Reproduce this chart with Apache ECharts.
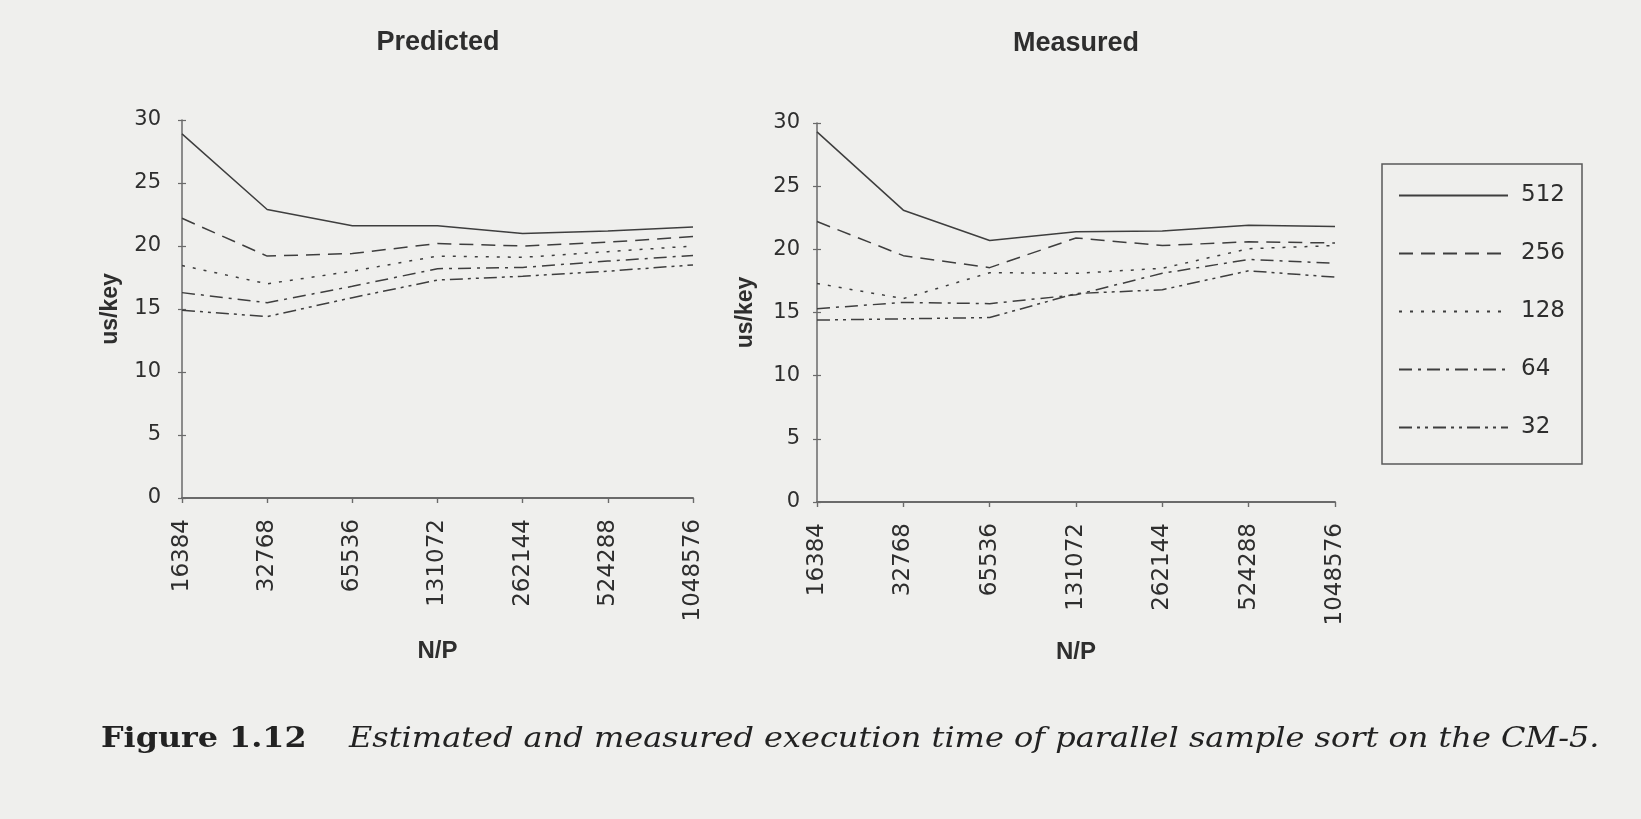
<!DOCTYPE html>
<html>
<head>
<meta charset="utf-8">
<script src="https://cdn.jsdelivr.net/npm/echarts@6/dist/echarts.min.js"></script>
<style>
html,body{margin:0;padding:0;background:#efefed;}
#chart{width:1641px;height:819px;}
</style>
</head>
<body>
<div id="chart"></div>
<script>
const categories = ['16384','32768','65536','131072','262144','524288','1048576'];
const seriesNames = ['512','256','128','64','32'];
const pred512 = [28.9, 22.9, 21.6, 21.6, 21.0, 21.2, 21.5];
const pred256 = [22.2, 19.2, 19.4, 20.2, 20.0, 20.3, 20.75];
const pred128 = [18.45, 17.0, 18.0, 19.2, 19.1, 19.55, 20.0];
const pred64  = [16.3, 15.5, 16.8, 18.2, 18.3, 18.8, 19.25];
const pred32  = [14.9, 14.4, 15.9, 17.3, 17.6, 18.0, 18.5];
const meas512 = [29.3, 23.1, 20.7, 21.4, 21.45, 21.9, 21.8];
const meas256 = [22.2, 19.5, 18.55, 20.9, 20.3, 20.6, 20.5];
const meas128 = [17.3, 16.1, 18.15, 18.1, 18.5, 20.05, 20.3];
const meas64  = [15.3, 15.8, 15.7, 16.4, 18.1, 19.2, 18.9];
const meas32  = [14.4, 14.5, 14.6, 16.5, 16.8, 18.3, 17.8];
const yTicks = {min: 0, max: 30, interval: 5};
const titles = ['Predicted', 'Measured'];
const yName = 'us/key';
const xName = 'N/P';
const captionBold = 'Figure 1.12';
const captionItalic = 'Estimated and measured execution time of parallel sample sort on the CM-5.';

const predicted = [pred512, pred256, pred128, pred64, pred32];
const measured = [meas512, meas256, meas128, meas64, meas32];
const dashes = ['solid', [14, 8], [3, 8], [13, 6, 3, 6], [13, 5, 3, 5, 3, 5]];
const lineColor = '#3e3e3e';
const axisColor = '#6a6a6a';
const textColor = '#2e2e2e';

const grids = [
  {left: 182, width: 511, top: 120, height: 378},
  {left: 817, width: 518, top: 123, height: 379}
];
const yMargins = [21, 17];
const xNameGaps = [141, 138];

const xAxes = [], yAxes = [];
grids.forEach((g, i) => {
  xAxes.push({
    type: 'category', gridIndex: i, data: categories, boundaryGap: false,
    name: xName, nameLocation: 'middle', nameGap: xNameGaps[i],
    nameTextStyle: {fontSize: 24, fontWeight: 'bold', fontFamily: 'Liberation Sans', color: textColor},
    axisLine: {lineStyle: {color: axisColor, width: 2}},
    axisTick: {length: 5, lineStyle: {color: axisColor, width: 1.2}},
    axisLabel: {rotate: 90, margin: 21, fontSize: 23, fontFamily: 'DejaVu Sans', color: textColor},
    splitLine: {show: false}
  });
  xAxes.push({
    type: 'category', gridIndex: i, data: categories, boundaryGap: false,
    axisLine: {show: false},
    axisTick: {inside: true, length: 5, lineStyle: {color: axisColor, width: 1.2}},
    axisLabel: {show: false}, splitLine: {show: false}
  });
  yAxes.push({
    type: 'value', gridIndex: i, min: yTicks.min, max: yTicks.max, interval: yTicks.interval,
    name: yName, nameLocation: 'middle', nameGap: 60,
    nameTextStyle: {fontSize: 23, fontWeight: 'bold', fontFamily: 'Liberation Sans', color: textColor},
    axisLine: {show: true, lineStyle: {color: axisColor, width: 1.5}},
    axisTick: {show: true, length: 4, lineStyle: {color: axisColor, width: 1.2}},
    axisLabel: {margin: yMargins[i], fontSize: 21, fontFamily: 'DejaVu Sans', color: textColor},
    splitLine: {show: false}
  });
  yAxes.push({
    type: 'value', gridIndex: i, min: yTicks.min, max: yTicks.max, interval: yTicks.interval,
    position: 'left',
    axisLine: {show: false},
    axisTick: {show: true, inside: true, length: 4, lineStyle: {color: axisColor, width: 1.2}},
    axisLabel: {show: false}, splitLine: {show: false}
  });
});

const series = [];
[predicted, measured].forEach((set, gi) => {
  set.forEach((arr, k) => {
    series.push({
      type: 'line', name: seriesNames[k], data: arr,
      xAxisIndex: gi * 2, yAxisIndex: gi * 2,
      symbol: 'none', smooth: false,
      lineStyle: {color: lineColor, width: 1.5, type: dashes[k]},
      itemStyle: {color: lineColor},
      emphasis: {disabled: true}
    });
  });
});

const chart = echarts.init(document.getElementById('chart'), null, {renderer: 'canvas'});
chart.setOption({
  backgroundColor: '#efefed',
  animation: false,
  grid: grids,
  xAxis: xAxes,
  yAxis: yAxes,
  legend: {
    data: seriesNames, orient: 'vertical', left: 1398, top: 184, padding: 0,
    itemWidth: 109, itemHeight: 20, itemGap: 35,
    itemStyle: {opacity: 0},
    textStyle: {fontSize: 23, fontFamily: 'DejaVu Sans', color: textColor, padding: [0, 0, 0, 8]},
    selectedMode: false
  },
  series: series,
  graphic: [
    {type: 'rect', shape: {x: 1382, y: 164, width: 200, height: 300}, style: {fill: 'none', stroke: '#5a5a5a', lineWidth: 1.5}},
    {type: 'text', x: 438, y: 43, style: {text: titles[0], font: 'bold 27px "Liberation Sans"', fill: textColor, textAlign: 'center', textVerticalAlign: 'middle'}},
    {type: 'text', x: 1076, y: 44, style: {text: titles[1], font: 'bold 27px "Liberation Sans"', fill: textColor, textAlign: 'center', textVerticalAlign: 'middle'}},
    {type: 'text', x: 101, y: 740, scaleX: 1.136, style: {text: captionBold, font: 'bold 28px "DejaVu Serif"', fill: '#222', textAlign: 'left', textVerticalAlign: 'middle'}},
    {type: 'text', x: 349, y: 740, scaleX: 1.142, style: {text: captionItalic, font: 'italic 28px "DejaVu Serif"', fill: '#222', textAlign: 'left', textVerticalAlign: 'middle'}}
  ]
});
</script>
</body>
</html>
